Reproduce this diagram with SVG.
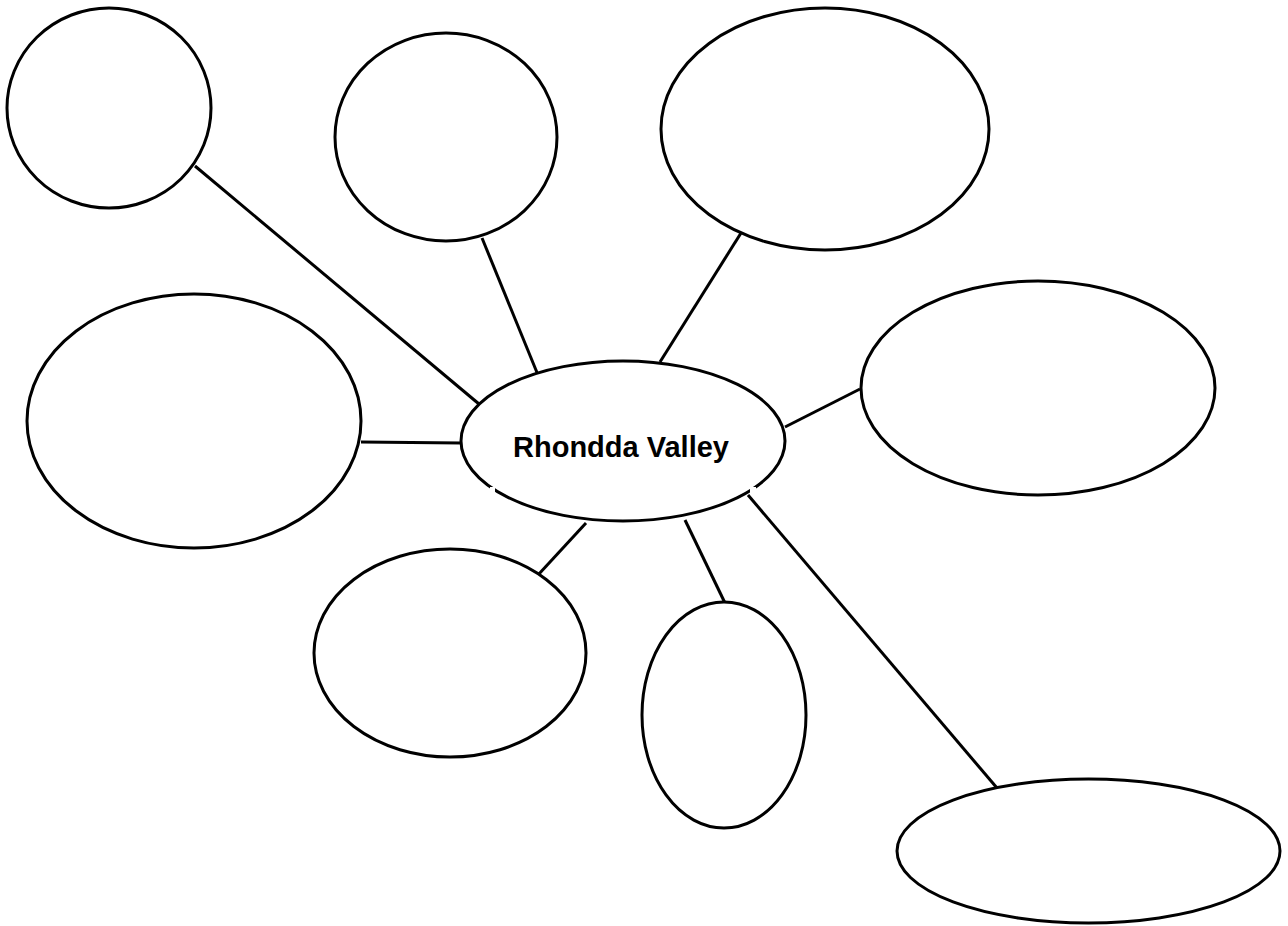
<svg xmlns="http://www.w3.org/2000/svg" width="1288" height="926" viewBox="0 0 1288 926">
<style>
.n{fill:#fff;stroke:#000;stroke-width:3}
.c line{stroke:#000;stroke-width:3}
.t{font-family:"Liberation Sans",Arial,sans-serif;font-weight:bold;font-size:29px;fill:#000}
</style>
<rect width="1288" height="926" fill="#fff"/>
<g id="connectors" class="c">
<line x1="195" y1="166" x2="479" y2="404"/>
<line x1="482" y1="238" x2="538" y2="375"/>
<line x1="741" y1="233" x2="660" y2="362"/>
<line x1="361" y1="442" x2="461" y2="443"/>
<line x1="860" y1="389" x2="785" y2="427"/>
<line x1="586" y1="523" x2="538" y2="575"/>
<line x1="685" y1="520" x2="725" y2="603"/>
<line x1="748" y1="495" x2="997" y2="788"/>
</g>
<g id="n1"><ellipse class="n" cx="109" cy="108" rx="102" ry="100"/></g>
<g id="n2"><ellipse class="n" cx="446" cy="137" rx="111" ry="104"/></g>
<g id="n3"><ellipse class="n" cx="825" cy="129" rx="164" ry="121"/></g>
<g id="n4"><ellipse class="n" cx="194" cy="421" rx="167" ry="127"/></g>
<g id="n5"><ellipse class="n" cx="1038" cy="388" rx="177" ry="107"/></g>
<g id="n6"><ellipse class="n" cx="450" cy="653" rx="136" ry="104"/></g>
<g id="n7"><ellipse class="n" cx="724" cy="715" rx="82" ry="113"/></g>
<g id="n8"><ellipse class="n" cx="1088.5" cy="851" rx="191.5" ry="72"/></g>
<g id="center">
<ellipse class="n" cx="623" cy="441" rx="162" ry="80"/>
<rect x="490" y="487" width="5" height="6" fill="#fff"/>
<rect x="750" y="487" width="6" height="6" fill="#fff"/>
<text class="t" x="621" y="457" text-anchor="middle">Rhondda Valley</text>
</g>
</svg>
